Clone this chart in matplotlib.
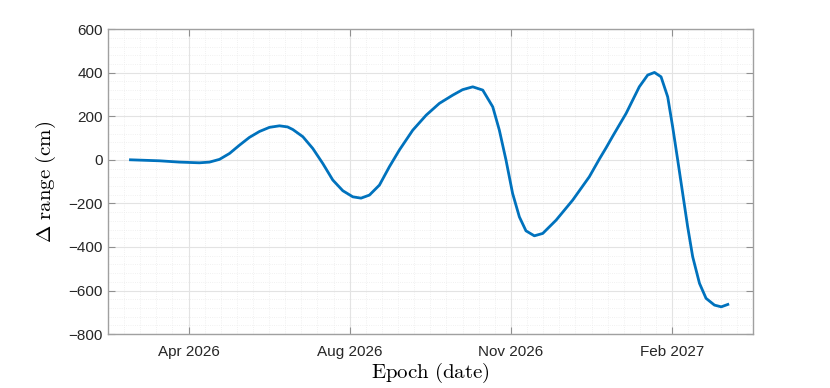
import numpy as np
import matplotlib
matplotlib.use("Agg")
import matplotlib.pyplot as plt
from matplotlib.ticker import FixedLocator, MultipleLocator

plt.rcParams['mathtext.fontset'] = 'cm'
plt.rcParams['font.family'] = ['Liberation Sans', 'DejaVu Sans']

# epoch of first major tick; samples given as days after it
ref_date = np.datetime64('2026-04-25')
days = [-36, -18, -5.6, 6.8, 13, 19.2, 25.4, 31.6, 37.8, 44, 50.2, 56.4,
        61.4, 64.7, 70.9, 77.1, 83.3, 89.5, 95.7, 101.9, 107, 112.2, 118.4,
        124.6, 130.8, 139.1, 147.4, 155.6, 163.9, 170, 176.3, 182.5, 188.7,
        192.8, 196.9, 201, 205.2, 209.3, 214.5, 219.7, 228, 238.3, 248.6,
        254.8, 259, 263.1, 267.2, 271.4, 279.6, 284.8, 289, 293.1, 297.2,
        300.3, 303.4, 306.5, 309.6, 312.7, 316.9, 321, 326.2, 330.4, 334.5]
drange = [0, -4.6, -10.6, -13.8, -10.6, 2, 29, 67, 103, 130, 149, 156,
          151, 139, 106, 52, -17, -93, -142, -170, -176, -162, -116,
          -32, 45, 136, 205, 259, 297, 322, 335, 320, 243,
          136, -1, -154, -262, -326, -349, -338, -277, -185, -78,
          3, 55, 108, 160, 213, 335, 389, 401, 381, 289,
          151, -1, -154, -307, -445, -567, -636, -667, -675, -664]

tick_days = [0, 100, 200, 300]
tick_labels = ['Apr 2026', 'Aug 2026', 'Nov 2026', 'Feb 2027']

# plot against dates
epochs = ref_date + np.round(np.array(days) * 24).astype('timedelta64[h]')
x = matplotlib.dates.date2num(epochs)
x0 = matplotlib.dates.date2num(ref_date)

fig = plt.figure(figsize=(8.3, 3.88), dpi=100)
ax = fig.add_axes([0.130, 0.139, 0.777, 0.786])

ax.plot(x, drange, color='#0072BD', linewidth=2, solid_joinstyle='round')

ax.set_xlim(x0 - 50, x0 + 350)
ax.set_ylim(-800, 600)
ax.xaxis.set_major_locator(FixedLocator([x0 + d for d in tick_days]))
ax.set_xticklabels(tick_labels)
ax.xaxis.set_minor_locator(MultipleLocator(10, offset=x0 % 10))
ax.yaxis.set_major_locator(MultipleLocator(200))
ax.yaxis.set_minor_locator(MultipleLocator(40))

ax.grid(True, which='major', color='#e3e3e3', linewidth=0.8)
ax.grid(True, which='minor', color='#ececec', linewidth=0.6, linestyle=':')
ax.set_axisbelow(True)

for s in ax.spines.values():
    s.set_color('#a0a0a0')
    s.set_linewidth(1.0)
ax.tick_params(which='major', direction='in', length=5, color='#909090',
               top=True, right=True, labelsize=11, labelcolor='#262626')
ax.tick_params(which='minor', length=0)
ax.tick_params(axis='x', pad=8)

ax.set_xlabel(r'$\mathrm{Epoch\ (date)}$', fontsize=15, labelpad=1)
ax.set_ylabel(r'$\Delta\ \mathrm{range\ (cm)}$', fontsize=15, labelpad=8)

fig.savefig('out.png', dpi=100)
